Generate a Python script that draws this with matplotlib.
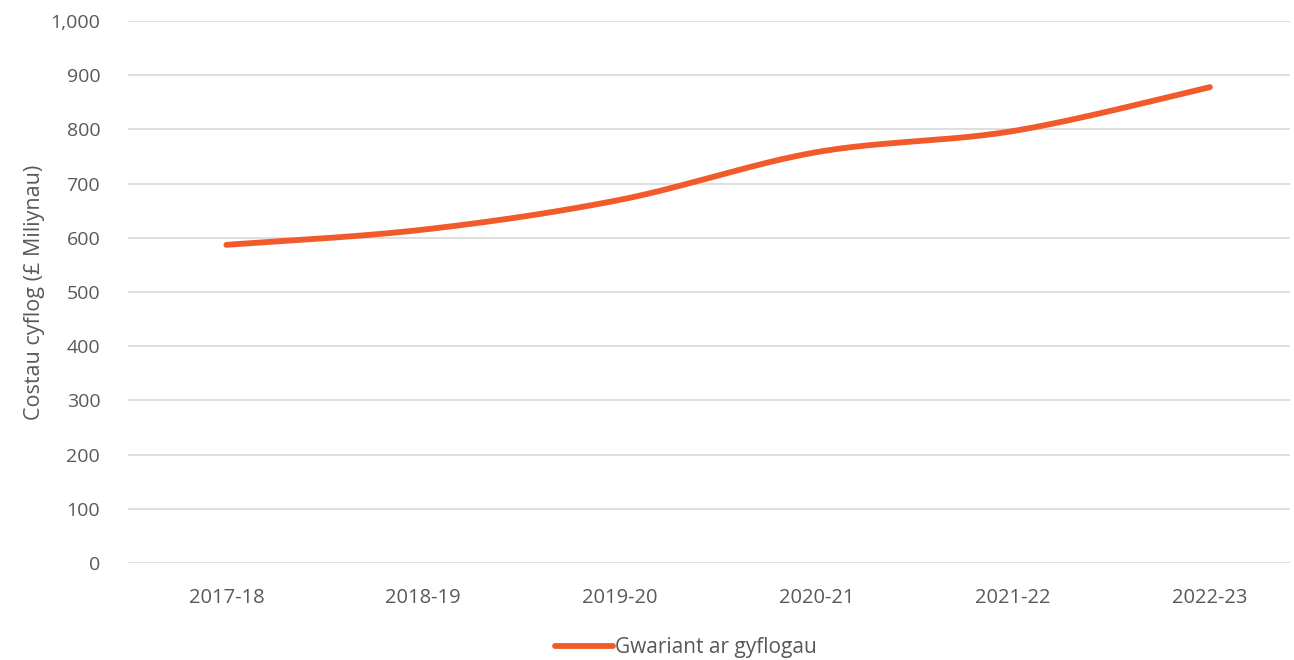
import numpy as np
import matplotlib.pyplot as plt

# Gwariant ar gyflogau, £ miliynau
years = ['2017-18', '2018-19', '2019-20', '2020-21', '2021-22', '2022-23']
costs = [587, 615, 670, 758, 797, 878]


def smooth_curve(x, y, n=40):
    # Bezier segments with Catmull-Rom style control points (like a spreadsheet "smoothed line")
    x = np.asarray(x, float)
    y = np.asarray(y, float)
    px = np.concatenate([[x[0]], x, [x[-1]]])
    py = np.concatenate([[y[0]], y, [y[-1]]])
    xs, ys = [], []
    t = np.linspace(0, 1, n)
    for i in range(1, len(px) - 2):
        p0 = np.array([px[i], py[i]])
        p3 = np.array([px[i + 1], py[i + 1]])
        p1 = p0 + (np.array([px[i + 1], py[i + 1]]) - np.array([px[i - 1], py[i - 1]])) / 6
        p2 = p3 - (np.array([px[i + 2], py[i + 2]]) - np.array([px[i], py[i]])) / 6
        b = ((1 - t) ** 3)[:, None] * p0 + (3 * (1 - t) ** 2 * t)[:, None] * p1 \
            + (3 * (1 - t) * t ** 2)[:, None] * p2 + (t ** 3)[:, None] * p3
        xs.extend(b[:, 0])
        ys.extend(b[:, 1])
    return np.array(xs), np.array(ys)


plt.rcParams['font.family'] = ['Open Sans', 'DejaVu Sans']
text_col = '#595959'

fig = plt.figure(figsize=(12.94, 6.6), dpi=100)
ax = fig.add_axes([128 / 1294, 1 - 563 / 660, (1290 - 128) / 1294, (563 - 21) / 660])

pos = np.arange(len(years))
sx, sy = smooth_curve(pos, costs)
ax.plot(sx, sy, color='#F15A2B', lw=4.2, solid_capstyle='round',
        label='Gwariant ar gyflogau', zorder=3)

ax.set_xlim(-0.5, (1290 - 227) / 196.6)
ax.set_ylim(0, 1000)
ax.set_yticks(np.arange(0, 1001, 100))
ax.set_yticklabels([f'{v:,}' for v in range(0, 1001, 100)])
ax.set_xticks(pos)
ax.set_xticklabels(years)
ax.grid(axis='y', color='#D9D9D9', lw=1.2)
ax.set_axisbelow(True)
for s in ax.spines.values():
    s.set_visible(False)
ax.tick_params(length=0, labelsize=14, colors=text_col, pad=20)
ax.tick_params(axis='x', labelsize=14.5, pad=18)
ax.set_ylabel('Costau cyflog (£ Miliynau)', fontsize=15.5, color=text_col, labelpad=4)

fig.legend(loc='center', bbox_to_anchor=(0.53, 1 - 648 / 660), frameon=False,
           fontsize=15, labelcolor=text_col, handlelength=2.8, handletextpad=0.1)

fig.savefig('out.png', dpi=100)
